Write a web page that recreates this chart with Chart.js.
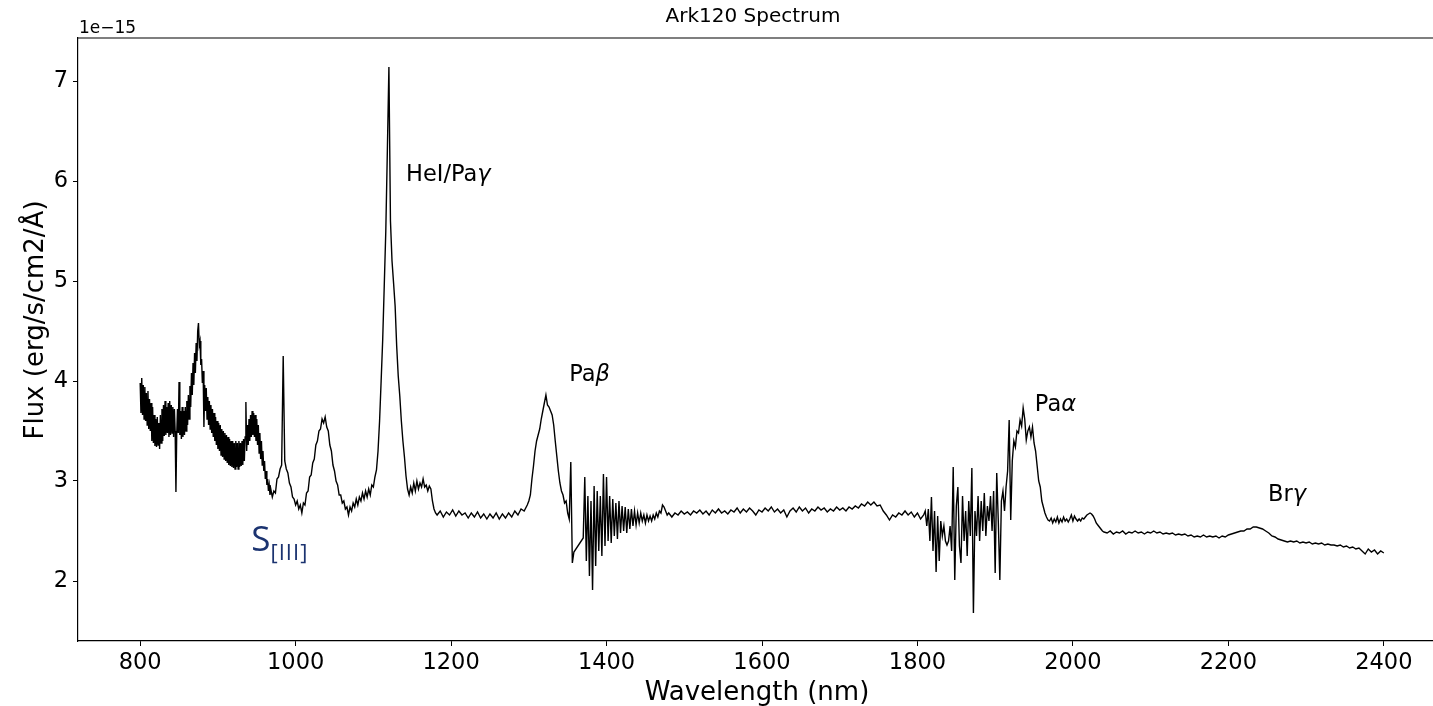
<!DOCTYPE html>
<html>
<head>
    <title>Ark120 Spectrum</title>
    <script src="https://cdn.jsdelivr.net/npm/chart.js@4.4.1/dist/chart.umd.min.js"></script>
</head>
<body style="margin: 0; background-color: white; overflow: hidden;">
    <!-- El lienzo es algo más ancho que la ventana: el borde derecho queda recortado -->
    <canvas id="myChart" width="1460" height="706" style="display: block;"></canvas>
    <script>
        // Flujo (unidades de 1e-15 erg/s/cm2/Å), por tramos de longitud de onda
        // Cada tramo: inicio (nm), paso (nm) y lista de valores
        const inicioA = 800, pasoA = 1;
        const fluxA = [3.98, 3.68, 4.03, 3.66, 3.96, 3.62, 3.94, 3.60, 3.88, 3.56, 3.90, 3.52, 3.82, 3.50, 3.78, 3.40,
            3.74, 3.38, 3.66, 3.35, 3.62, 3.34, 3.64, 3.36, 3.58, 3.32, 3.66, 3.38, 3.72, 3.40, 3.76, 3.45,
            3.80, 3.46, 3.74, 3.48, 3.78, 3.44, 3.80, 3.46, 3.76, 3.48, 3.74, 3.44, 3.72, 3.50, 2.89, 3.46,
            3.72, 3.48, 3.99, 3.46, 3.70, 3.42, 3.74, 3.44, 3.70, 3.46, 3.74, 3.50, 3.80, 3.56, 3.86, 3.62,
            3.95, 3.74, 4.08, 3.86, 4.18, 3.96, 4.28, 4.08, 4.38, 4.20, 4.50, 4.58, 4.36, 4.40, 4.16, 4.22,
            3.98, 4.10, 3.54, 3.96, 3.70, 3.93, 3.62, 3.84, 3.56, 3.80, 3.52, 3.76, 3.48, 3.72, 3.44, 3.68,
            3.40, 3.64, 3.36, 3.60, 3.32, 3.58, 3.30, 3.56, 3.26, 3.52, 3.24, 3.50, 3.22, 3.48, 3.20, 3.46,
            3.18, 3.44, 3.16, 3.42, 3.15, 3.40, 3.14, 3.40, 3.13, 3.38, 3.12, 3.40, 3.14, 3.38, 3.12, 3.40,
            3.14, 3.38, 3.15, 3.40, 3.16, 3.42, 3.20, 3.44, 3.79, 3.30, 3.56, 3.36, 3.62, 3.40, 3.66, 3.44,
            3.70, 3.46, 3.68, 3.44, 3.66, 3.40, 3.62, 3.36, 3.56, 3.28, 3.48, 3.22, 3.40, 3.16, 3.30, 3.10,
            3.20, 3.02, 3.10, 2.96, 3.02, 2.90, 2.96, 2.86, 2.92];

        const inicioB = 970, pasoB = 2;
        const fluxB = [2.84, 2.90, 2.88, 3.02, 3.04, 3.12, 3.16, 4.25, 3.20, 3.12, 3.08, 2.98, 2.94, 2.84, 2.82, 2.76,
            2.80, 2.72, 2.76, 2.68, 2.78, 2.76, 2.88, 2.90, 3.04, 3.06, 3.18, 3.22, 3.36, 3.40, 3.50, 3.52,
            3.62, 3.58, 3.64, 3.54, 3.50, 3.36, 3.30, 3.16, 3.10, 3.00, 2.96, 2.86, 2.86, 2.78, 2.80, 2.72,
            2.74, 2.66, 2.74, 2.70, 2.78, 2.74, 2.82, 2.76, 2.84, 2.80, 2.88, 2.82, 2.90, 2.84, 2.92, 2.86,
            2.96, 2.94, 3.04, 3.11];

        const inicioC = 1106, pasoC = 2;
        const fluxC = [3.30, 3.60, 4.00, 4.41, 4.95, 5.50, 6.30, 7.14, 5.60, 5.20, 4.98, 4.75, 4.35, 4.05, 3.85, 3.60,
            3.40, 3.24, 3.05, 2.92, 2.86, 2.94, 2.88, 2.98, 2.90, 3.00, 2.92, 2.98, 2.94, 3.02, 2.94, 2.96,
            2.90, 2.95, 2.92, 2.80, 2.72, 2.68];

        const inicioD = 1182, pasoD = 4;
        const fluxD = [2.66, 2.70, 2.64, 2.69, 2.66, 2.71, 2.65, 2.70, 2.66, 2.68, 2.63, 2.68, 2.64, 2.69, 2.63, 2.67,
            2.62, 2.67, 2.63, 2.68, 2.62, 2.67, 2.63, 2.68, 2.64, 2.70, 2.66, 2.72, 2.70, 2.76];

        const inicioE = 1300, pasoE = 2;
        const fluxE = [2.80, 2.86, 3.02, 3.15, 3.30, 3.40, 3.46, 3.52, 3.62, 3.70, 3.78, 3.86, 3.76, 3.74, 3.70, 3.66,
            3.56, 3.40, 3.25, 3.10, 2.98, 2.90, 2.86, 2.78, 2.80, 2.68];

        const inicioF = 1352, pasoF = 2;
        const fluxF = [2.62, 3.19, 2.18, 2.29];

        const inicioG = 1370, pasoG = 2;
        const fluxG = [2.43, 3.04, 2.20, 2.85, 2.05, 2.80, 1.91, 2.95, 2.15, 2.90, 2.30, 2.85, 2.25, 3.07, 2.35, 3.04,
            2.40, 2.85, 2.38, 2.82, 2.45, 2.78, 2.42, 2.80, 2.48, 2.75, 2.50, 2.74, 2.48, 2.72, 2.52, 2.72,
            2.55, 2.70, 2.56, 2.68, 2.58, 2.68, 2.60, 2.66, 2.58, 2.66, 2.60, 2.65, 2.60, 2.66, 2.62, 2.68,
            2.64, 2.70, 2.68, 2.76, 2.74, 2.70, 2.66, 2.68];

        const inicioH = 1484, pasoH = 4;
        const fluxH = [2.64, 2.68, 2.66, 2.70, 2.67, 2.69, 2.66, 2.70, 2.68, 2.71, 2.67, 2.70, 2.66, 2.71, 2.68, 2.72,
            2.68, 2.70, 2.67, 2.71, 2.69, 2.73, 2.68, 2.72, 2.69, 2.73, 2.70, 2.66, 2.71, 2.69, 2.73, 2.70,
            2.74, 2.69, 2.72, 2.68, 2.71, 2.64, 2.70, 2.73, 2.69, 2.74, 2.70, 2.73, 2.68, 2.72, 2.70, 2.74,
            2.71, 2.73, 2.69, 2.72, 2.70, 2.74, 2.71, 2.73, 2.70, 2.74, 2.72, 2.75, 2.73, 2.77, 2.75, 2.79,
            2.76, 2.79, 2.75, 2.76, 2.70, 2.66, 2.61, 2.66, 2.64, 2.68, 2.66, 2.70, 2.66, 2.69, 2.64, 2.68,
            2.62, 2.66];

        const inicioI = 1810, pasoI = 2;
        const fluxI = [2.70, 2.55, 2.72, 2.40, 2.84, 2.30, 2.70, 2.09, 2.65, 2.20, 2.60, 2.45, 2.55, 2.40, 2.36, 2.40,
            2.55, 2.30, 3.14, 2.01, 2.75, 2.94, 2.35, 2.18, 2.85, 2.40, 2.70, 2.25, 2.80, 2.45, 3.13, 1.68,
            2.70, 2.45, 2.85, 2.40, 2.80, 2.50, 2.88, 2.45, 2.75, 2.60, 2.85, 2.50, 2.90, 2.08, 3.08, 2.60,
            2.01, 2.80, 2.90, 2.70, 2.94, 3.10, 3.61, 2.61, 3.20, 3.40, 3.34, 3.50, 3.48];

        const inicioJ = 1932, pasoJ = 2;
        const fluxJ = [3.61, 3.55, 3.73, 3.62, 3.41, 3.50, 3.54, 3.44, 3.54, 3.38, 3.30, 3.15, 3.00, 2.94, 2.80, 2.74,
            2.68, 2.64, 2.61, 2.60, 2.63, 2.58, 2.62, 2.59, 2.64, 2.58, 2.62, 2.59, 2.64, 2.60, 2.62, 2.59,
            2.62, 2.66, 2.60, 2.65, 2.62, 2.60, 2.62, 2.60, 2.63, 2.62, 2.64, 2.66, 2.67, 2.68, 2.67, 2.65,
            2.62, 2.58, 2.56, 2.54, 2.52, 2.50, 2.49];

        const inicioK = 2044, pasoK = 4;
        const fluxK = [2.48, 2.50, 2.47, 2.49, 2.48, 2.50, 2.47, 2.49, 2.48, 2.50, 2.48, 2.49, 2.47, 2.49, 2.48, 2.50,
            2.48, 2.49, 2.47, 2.48, 2.47, 2.48, 2.46, 2.47, 2.46, 2.47, 2.45, 2.46, 2.44, 2.45, 2.44, 2.46,
            2.44, 2.45, 2.44, 2.45, 2.43, 2.45, 2.44, 2.46, 2.47, 2.48, 2.49, 2.50, 2.50, 2.52, 2.52, 2.54,
            2.54, 2.53, 2.52, 2.50, 2.48, 2.45, 2.44, 2.42, 2.41, 2.40, 2.39, 2.40, 2.39, 2.40, 2.38, 2.39,
            2.38, 2.39, 2.37, 2.38, 2.37, 2.38, 2.36, 2.37, 2.36, 2.36, 2.35, 2.36, 2.34, 2.35, 2.33, 2.34,
            2.32, 2.33, 2.30, 2.27, 2.32, 2.29, 2.31, 2.27, 2.30, 2.28];

        // Marcas de los ejes
        const ticksX = [800, 1000, 1200, 1400, 1600, 1800, 2000, 2200, 2400];
        const ticksY = [2, 3, 4, 5, 6, 7];

        // Etiquetas de las líneas de emisión (posición en coordenadas de datos)
        const lineasNombre = ['HeI/Pa', 'Pa', 'Pa', 'Br'];
        const lineasGriega = ['γ', 'β', 'α', 'γ'];
        const lineasX = [1142, 1352, 1951, 2251];
        const lineasY = [6.0, 4.0, 3.7, 2.8];

        const tramos = [
            [inicioA, pasoA, fluxA], [inicioB, pasoB, fluxB], [inicioC, pasoC, fluxC], [inicioD, pasoD, fluxD],
            [inicioE, pasoE, fluxE], [inicioF, pasoF, fluxF], [inicioG, pasoG, fluxG], [inicioH, pasoH, fluxH],
            [inicioI, pasoI, fluxI], [inicioJ, pasoJ, fluxJ], [inicioK, pasoK, fluxK]
        ];
        var puntos = [];
        tramos.forEach(function (t) {
            t[2].forEach(function (f, i) {
                puntos.push({ x: t[0] + i * t[1], y: f });
            });
        });

        const fuente = 'DejaVu Sans';

        // Textos al estilo matplotlib: título, etiquetas, marco y anotaciones
        const textos = {
            id: 'textos',
            afterDraw: function (chart) {
                var ctx = chart.ctx;
                var area = chart.chartArea;
                var sx = chart.scales.x, sy = chart.scales.y;
                ctx.save();

                // marco superior y derecho
                ctx.strokeStyle = '#000';
                ctx.lineWidth = 1.2;
                ctx.beginPath();
                ctx.moveTo(area.left, area.top);
                ctx.lineTo(area.right, area.top);
                ctx.lineTo(area.right, area.bottom);
                ctx.stroke();

                ctx.fillStyle = '#000';
                ctx.textBaseline = 'alphabetic';

                ctx.font = '20px "' + fuente + '"';
                ctx.textAlign = 'center';
                ctx.fillText('Ark120 Spectrum', 753, 22);

                ctx.font = '26px "' + fuente + '"';
                ctx.fillText('Wavelength (nm)', 757, 700);

                ctx.save();
                ctx.translate(43, 320);
                ctx.rotate(-Math.PI / 2);
                ctx.fillText('Flux (erg/s/cm2/Å)', 0, 0);
                ctx.restore();

                ctx.font = '17px "' + fuente + '"';
                ctx.textAlign = 'left';
                ctx.fillText('1e\u221215', 79, 33);

                // anotaciones de líneas
                for (var i = 0; i < lineasNombre.length; i++) {
                    var px = sx.getPixelForValue(lineasX[i]);
                    var py = sy.getPixelForValue(lineasY[i]);
                    ctx.font = '22.5px "' + fuente + '"';
                    ctx.fillText(lineasNombre[i], px, py);
                    var w = ctx.measureText(lineasNombre[i]).width;
                    ctx.font = 'italic 22.5px "' + fuente + '"';
                    ctx.fillText(lineasGriega[i], px + w, py);
                }

                // S[III]
                var spx = sx.getPixelForValue(943);
                var spy = sy.getPixelForValue(2.3);
                ctx.fillStyle = '#1b3370';
                ctx.font = '35px "Open Sans"';
                ctx.fillText('S', spx, spy);
                var ws = ctx.measureText('S').width;
                ctx.font = '22px "Open Sans"';
                ctx.letterSpacing = '1px';
                ctx.fillText('[III]', spx + ws, spy + 9);

                ctx.restore();
            }
        };

        var ctx = document.getElementById('myChart').getContext('2d');
        var myChart = new Chart(ctx, {
            type: 'line',
            data: {
                datasets: [{
                    data: puntos,
                    borderColor: '#000',
                    borderWidth: 1.4,
                    pointRadius: 0,
                    tension: 0,
                    fill: false
                }]
            },
            options: {
                responsive: false,
                animation: false,
                layout: { padding: { top: 38, right: 14, left: 0, bottom: 0 } },
                scales: {
                    x: {
                        type: 'linear',
                        min: 720,
                        max: 2480,
                        afterBuildTicks: function (scale) {
                            scale.ticks = ticksX.map(function (v) { return { value: v }; });
                        },
                        afterFit: function (scale) { scale.height = 65; },
                        grid: { drawOnChartArea: false, drawTicks: true, tickLength: 5, color: '#000' },
                        border: { display: true, color: '#000', width: 1.2 },
                        ticks: {
                            color: '#000',
                            padding: 4,
                            maxRotation: 0,
                            font: { family: fuente, size: 22.5 },
                            callback: function (v) { return String(v); }
                        }
                    },
                    y: {
                        type: 'linear',
                        min: 1.40,
                        max: 7.43,
                        afterBuildTicks: function (scale) {
                            scale.ticks = ticksY.map(function (v) { return { value: v }; });
                        },
                        afterFit: function (scale) { scale.width = 78; },
                        grid: { drawOnChartArea: false, drawTicks: true, tickLength: 5, color: '#000' },
                        border: { display: true, color: '#000', width: 1.2 },
                        ticks: {
                            color: '#000',
                            padding: 5,
                            font: { family: fuente, size: 22.5 },
                            callback: function (v) { return String(v); }
                        }
                    }
                },
                plugins: {
                    legend: { display: false },
                    tooltip: { enabled: false }
                }
            },
            plugins: [textos]
        });
    </script>
</body>
</html>
